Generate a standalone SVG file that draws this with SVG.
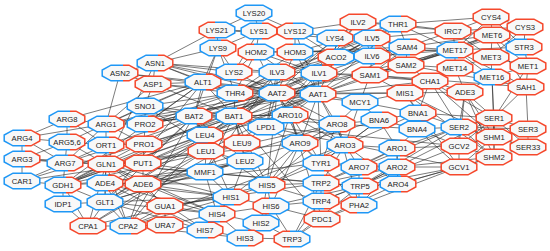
<svg xmlns="http://www.w3.org/2000/svg" xmlns:xlink="http://www.w3.org/1999/xlink" width="550" height="251" viewBox="0 0 550 251">
<defs>
<style>
.e{fill:none;stroke:#2a2a2a;stroke-width:0.62}
.n use{fill:#f8f8f8;stroke-width:1.5;stroke-linejoin:miter}
.br{stroke:url(#gbr)}
.rb{stroke:url(#grb)}
.b{stroke:#1f97f5}
.r{stroke:#f5482c}
.n text{font-family:"Liberation Sans",Arial,sans-serif;font-size:7.7px;fill:#222;text-anchor:middle}
</style>
<linearGradient id="gbr" x1="0" y1="0" x2="1" y2="0"><stop offset="0" stop-color="#1f97f5"/><stop offset="0.58" stop-color="#1f97f5"/><stop offset="0.58" stop-color="#f5482c"/><stop offset="1" stop-color="#f5482c"/></linearGradient>
<linearGradient id="grb" x1="0" y1="0" x2="1" y2="0"><stop offset="0" stop-color="#f5482c"/><stop offset="0.45" stop-color="#f5482c"/><stop offset="0.45" stop-color="#1f97f5"/><stop offset="1" stop-color="#1f97f5"/></linearGradient>
<polygon id="o" points="-9,-7.8 9,-7.8 17.8,-3 17.8,3 9,7.8 -9,7.8 -17.8,3 -17.8,-3"/>
</defs>
<rect width="550" height="251" fill="#fff"/>
<g id="connectors" class="e">
<path d="M254 13L217 30M254 13L259 31M254 13L295 31M217 30L259 31M259 31L295 31M217 30L218 48M259 31L218 48M218 48L234 72M259 31L234 72M295 31L335 38M295 31L336 57M335 38L336 57M217 30L335 38M295 31L358 22M335 38L358 22M234 72L277 93M234 72L203 82M218 48L203 82M218 48L194 116M218 48L235 93M295 31L295 52M259 31L256 52M336 57L319 73M336 57L277 72M336 57L318 94M336 57L372 38M335 38L372 38M335 38L372 56M234 72L277 72M295 31L318 94M335 38L277 93M336 57L235 93"/>
<path d="M256 52L295 52M256 52L235 93M295 52L235 93M256 52L277 93M295 52L277 93M295 52L318 94M256 52L318 94M295 52L398 24M256 52L455 50M295 52L455 50M295 52L407 47M256 52L319 73M295 52L319 73M398 24L319 73M398 24L235 93M398 24L372 38M398 24L407 47M398 24L318 94M398 24L453 31M398 24L455 50M235 93L319 73M235 93L277 93M235 93L277 72M235 93L234 116M235 93L203 82M235 93L318 94M256 52L234 72"/>
<path d="M319 73L358 22M319 73L277 72M358 22L372 38M358 22L372 56M372 38L372 56M277 72L372 38M277 72L372 56M277 72L234 116M277 72L194 116M372 38L234 116M372 56L194 116M358 22L234 116M372 38L205 135M372 56L205 135M358 22L266 127M277 72L266 127M319 73L266 127M372 56L406 65M372 38L407 47M319 73L430 81M319 73L370 75M358 22L398 24M372 56L455 50M372 38L453 31M372 56L370 75"/>
<path d="M277 93L318 94M277 93L203 82M277 93L153 84M277 93L155 63M318 94L155 63M318 94L120 73M277 93L120 73M277 93L337 124M318 94L337 124M277 93L300 143M318 94L300 143M277 93L234 116M318 94L194 116M277 93L63 185M318 94L63 185M277 93L105 202M318 94L105 202M277 93L106 164M318 94L106 124M277 93L145 124M318 94L144 144M277 93L455 50M318 94L455 50M318 94L370 75M277 93L406 65M318 94L360 102M277 93L266 127M277 93L290 115M318 94L290 115M318 94L321 163M277 93L321 163M318 94L405 93M277 93L405 93M318 94L319 73M277 93L277 72M318 94L277 72M277 93L319 73M318 94L430 81M277 93L345 145M318 94L345 145M318 94L407 47"/>
<path d="M203 82L234 116M203 82L194 116M203 82L155 63M203 82L153 84M203 82L63 185M203 82L105 202M203 82L145 106M203 82L145 124M203 82L106 124M155 63L120 73M155 63L153 84M120 73L153 84M120 73L106 124M153 84L106 124M153 84L145 106M155 63L234 72M155 63L235 93M155 63L277 72M153 84L235 93M153 84L234 116M155 63L106 164M155 63L218 48M155 63L217 30"/>
<path d="M234 116L194 116M234 116L205 135M194 116L205 135M234 116L242 143M194 116L206 151M234 116L245 161M194 116L245 161M205 135L242 143M205 135L206 151M206 151L245 161M242 143L245 161M242 143L206 151M234 116L290 115M194 116L290 115M234 116L322 219M194 116L63 185M234 116L63 185M194 116L105 202M194 116L143 163M234 116L337 124M234 116L300 143M205 135L290 115M206 151L205 172M245 161L205 172M205 172L234 116M205 172L277 72M266 127L234 116M266 127L459 167M266 127L459 146M266 127L290 115M266 127L242 143M194 116L145 106M194 116L145 124"/>
<path d="M337 124L300 143M337 124L290 115M300 143L290 115M337 124L321 163M300 143L321 163M337 124L359 205M300 143L359 205M290 115L322 219M337 124L345 145M345 145L398 184M345 145L397 148M398 184L397 148M397 148L397 167M397 167L359 167M359 167L321 163M359 167L359 205M359 167L345 145M397 167L321 183M397 148L321 183M345 145L321 183M321 183L292 239M321 183L321 201M321 201L292 239M360 186L292 239M360 186L321 183M360 186L321 201M321 201L359 205M360 186L397 167M360 186L398 184M398 184L397 167M345 145L321 163M337 124L267 185M300 143L267 185M300 143L231 197M321 163L267 185M321 183L267 185M321 201L271 206M322 219L292 239M322 219L359 205M322 219L271 206M290 115L267 185M337 124L417 129M300 143L379 120M337 124L379 120M360 102L337 124M360 102L379 120M360 186L494 118M360 186L459 127M321 183L459 127M398 184L459 167M397 167L459 167M397 148L459 146M397 148L459 127M397 167L494 157M398 184L494 157M359 167L397 148M321 163L397 167M359 205L397 167M359 205L459 167M321 201L459 146M360 186L459 167M322 219L398 184M271 206L360 186M267 185L321 201M290 115L345 145"/>
<path d="M231 197L217 214M231 197L271 206M231 197L267 185M267 185L271 206M217 214L271 206M217 214L261 223M261 223L271 206M261 223L245 238M205 230L245 238M205 230L217 214M245 238L292 239M261 223L292 239M271 206L292 239M267 185L261 223M231 197L205 230M217 214L245 238M231 197L105 183M217 214L143 184M205 230L106 164M231 197L245 161M267 185L245 161M267 185L234 116M231 197L194 116M217 214L105 202M205 230L105 202M245 238L128 226M267 185L277 93M217 214L205 172M231 197L205 172M271 206L300 143M267 185L345 145"/>
<path d="M455 50L492 35M455 50L491 57M455 50L455 68M455 50L524 47M455 50L491 17M455 50L525 27M455 50L453 31M455 50L407 47M455 50L406 65M455 50L370 75M455 50L526 87M455 50L492 77M492 35L491 17M492 35L453 31M492 35L524 47M492 35L491 57M492 35L406 65M492 35L370 75M492 35L526 87M492 35L528 66M491 17L525 27M491 17L453 31M491 17L524 47M491 17L398 24M525 27L524 47M525 27L453 31M525 27L491 57M524 47L491 57M524 47L528 66M491 57L455 68M491 57L492 77M491 57L528 66M455 68L492 77M492 77L528 66M492 77L526 87M528 66L526 87M455 68L406 65M455 68L465 92M492 77L494 118M526 87L494 118M526 87L370 75M526 87L406 65M370 75L406 65M406 65L407 47M407 47L370 75M407 47L453 31M407 47L492 35M370 75L405 93M370 75L430 81M406 65L430 81M453 31L491 57M358 22L453 31M372 38L406 65M430 81L455 68M430 81L405 93M430 81L465 92M430 81L494 118M430 81L459 127M430 81L494 137M430 81L418 113M405 93L465 92M405 93L494 137M405 93L494 157M405 93L459 167M405 93L418 113M405 93L455 68M465 92L494 137M465 92L494 157M465 92L459 127M465 92L459 146M465 92L494 118M465 92L492 77M492 77L494 137M528 66L494 118M526 87L528 129"/>
<path d="M494 118L459 127M494 118L528 129M494 118L528 147M528 129L528 147M494 118L494 137M494 118L494 157M459 127L494 137M459 127L494 157M459 127L528 129M459 127L528 147M494 137L494 157M494 137L459 167M494 137L459 146M494 157L459 167M494 157L459 146M459 167L459 146M528 129L494 137M528 147L494 157M459 127L459 146M494 118L459 146M528 147L494 137"/>
<path d="M418 113L417 129M418 113L379 120M417 129L379 120M417 129L459 127M418 113L459 127M417 129L397 148M379 120L397 148M417 129L459 146M418 113L345 145M379 120L321 163M379 120L345 145M418 113L360 102M360 102L370 75M360 102L405 93M360 102L345 145M360 102L277 93M418 113L494 118M417 129L459 167"/>
<path d="M67 119L106 124M67 119L67 142M67 119L22 138M67 119L106 145M22 138L67 142M22 138L22 159M22 138L106 124M22 138L65 163M22 159L67 142M22 159L22 181M22 159L65 163M22 159L106 164M22 159L143 163M67 142L65 163M67 142L106 145M67 142L106 124M67 142L106 164M65 163L106 145M65 163L106 124M65 163L63 185M65 163L106 164M106 145L106 124M106 145L144 144M106 145L106 164M106 124L145 124M106 124L144 144M106 124L145 106M145 124L144 144M145 124L145 106M144 144L143 163M143 163L106 164M143 163L22 181M143 163L143 184M106 164L63 185M106 164L105 202M106 164L105 183M106 164L143 184M106 164L128 226M106 164L88 226M63 185L105 202M63 185L105 183M63 185L63 204M63 185L88 226M105 202L105 183M105 202L88 226M105 202L128 226M105 202L63 204M105 183L143 184M105 183L128 226M143 184L128 226M88 226L128 226M88 226L63 204M128 226L165 225M128 226L165 206M165 225L165 206M165 206L143 184M22 181L65 163M22 181L144 144M63 185L22 181"/>
<path d="M106 124L234 116M106 124L277 93M106 124L235 93M65 163L277 93M67 119L203 82M106 145L194 116M144 144L234 116M145 124L194 116M145 124L235 93M145 124L277 93M145 106L235 93M145 106L234 116M145 106L267 185M143 163L205 135M143 163L318 94M143 163L206 151M143 163L205 172M106 164L217 214M106 164L231 197M106 164L300 143M106 164L321 183M106 164L360 186M105 183L267 185M105 183L245 161M105 183L205 230M143 184L231 197M143 184L245 161M143 184L205 172M143 184L337 124M143 184L321 163M63 185L205 135M63 185L205 172M105 202L231 197M105 202L245 161M105 202L300 143M128 226L231 197M128 226L345 145M88 226L267 185M88 226L318 94M165 225L217 214M165 206L231 197M165 225L205 230M63 185L337 124M105 183L318 94M106 164L206 151M128 226L205 135M128 226L194 116M88 226L206 151M105 202L234 116M105 183L217 214M165 206L217 214M165 206L321 183"/>
</g>
<g id="nodes">
<g id="n-ASN1" class="n" transform="translate(155,63)"><use href="#o" class="br"/><text y="2.7">ASN1</text></g>
<g id="n-ASN2" class="n" transform="translate(120,73)"><use href="#o" class="br"/><text y="2.7">ASN2</text></g>
<g id="n-ASP1" class="n" transform="translate(153,84)"><use href="#o" class="r"/><text y="2.7">ASP1</text></g>
<g id="n-SNO1" class="n" transform="translate(145,106)"><use href="#o" class="b"/><text y="2.7">SNO1</text></g>
<g id="n-ARG8" class="n" transform="translate(67,119)"><use href="#o" class="br"/><text y="2.7">ARG8</text></g>
<g id="n-ARG1" class="n" transform="translate(106,124)"><use href="#o" class="br"/><text y="2.7">ARG1</text></g>
<g id="n-PRO2" class="n" transform="translate(145,124)"><use href="#o" class="br"/><text y="2.7">PRO2</text></g>
<g id="n-LYS20" class="n" transform="translate(254,13)"><use href="#o" class="b"/><text y="2.7">LYS20</text></g>
<g id="n-LYS21" class="n" transform="translate(217,30)"><use href="#o" class="rb"/><text y="2.7">LYS21</text></g>
<g id="n-LYS1" class="n" transform="translate(259,31)"><use href="#o" class="br"/><text y="2.7">LYS1</text></g>
<g id="n-LYS12" class="n" transform="translate(295,31)"><use href="#o" class="rb"/><text y="2.7">LYS12</text></g>
<g id="n-ILV2" class="n" transform="translate(358,22)"><use href="#o" class="r"/><text y="2.7">ILV2</text></g>
<g id="n-LYS9" class="n" transform="translate(218,48)"><use href="#o" class="br"/><text y="2.7">LYS9</text></g>
<g id="n-HOM2" class="n" transform="translate(256,52)"><use href="#o" class="rb"/><text y="2.7">HOM2</text></g>
<g id="n-HOM3" class="n" transform="translate(295,52)"><use href="#o" class="rb"/><text y="2.7">HOM3</text></g>
<g id="n-LYS4" class="n" transform="translate(335,38)"><use href="#o" class="br"/><text y="2.7">LYS4</text></g>
<g id="n-ACO2" class="n" transform="translate(336,57)"><use href="#o" class="rb"/><text y="2.7">ACO2</text></g>
<g id="n-LYS2" class="n" transform="translate(234,72)"><use href="#o" class="br"/><text y="2.7">LYS2</text></g>
<g id="n-ILV3" class="n" transform="translate(277,72)"><use href="#o" class="br"/><text y="2.7">ILV3</text></g>
<g id="n-ILV1" class="n" transform="translate(319,73)"><use href="#o" class="br"/><text y="2.7">ILV1</text></g>
<g id="n-ALT1" class="n" transform="translate(203,82)"><use href="#o" class="br"/><text y="2.7">ALT1</text></g>
<g id="n-THR4" class="n" transform="translate(235,93)"><use href="#o" class="br"/><text y="2.7">THR4</text></g>
<g id="n-AAT2" class="n" transform="translate(277,93)"><use href="#o" class="br"/><text y="2.7">AAT2</text></g>
<g id="n-AAT1" class="n" transform="translate(318,94)"><use href="#o" class="br"/><text y="2.7">AAT1</text></g>
<g id="n-MCY1" class="n" transform="translate(360,102)"><use href="#o" class="b"/><text y="2.7">MCY1</text></g>
<g id="n-BAT2" class="n" transform="translate(194,116)"><use href="#o" class="br"/><text y="2.7">BAT2</text></g>
<g id="n-BAT1" class="n" transform="translate(234,116)"><use href="#o" class="br"/><text y="2.7">BAT1</text></g>
<g id="n-ARO10" class="n" transform="translate(290,115)"><use href="#o" class="br"/><text y="2.7">ARO10</text></g>
<g id="n-LPD1" class="n" transform="translate(266,127)"><use href="#o" class="b"/><text y="2.7">LPD1</text></g>
<g id="n-ARO8" class="n" transform="translate(337,124)"><use href="#o" class="br"/><text y="2.7">ARO8</text></g>
<g id="n-CYS4" class="n" transform="translate(491,17)"><use href="#o" class="r"/><text y="2.7">CYS4</text></g>
<g id="n-THR1" class="n" transform="translate(398,24)"><use href="#o" class="br"/><text y="2.7">THR1</text></g>
<g id="n-IRC7" class="n" transform="translate(453,31)"><use href="#o" class="r"/><text y="2.7">IRC7</text></g>
<g id="n-CYS3" class="n" transform="translate(525,27)"><use href="#o" class="r"/><text y="2.7">CYS3</text></g>
<g id="n-ILV5" class="n" transform="translate(372,38)"><use href="#o" class="br"/><text y="2.7">ILV5</text></g>
<g id="n-MET6" class="n" transform="translate(492,35)"><use href="#o" class="r"/><text y="2.7">MET6</text></g>
<g id="n-SAM4" class="n" transform="translate(407,47)"><use href="#o" class="br"/><text y="2.7">SAM4</text></g>
<g id="n-MET17" class="n" transform="translate(455,50)"><use href="#o" class="br"/><text y="2.7">MET17</text></g>
<g id="n-STR3" class="n" transform="translate(524,47)"><use href="#o" class="br"/><text y="2.7">STR3</text></g>
<g id="n-ILV6" class="n" transform="translate(372,56)"><use href="#o" class="br"/><text y="2.7">ILV6</text></g>
<g id="n-MET3" class="n" transform="translate(491,57)"><use href="#o" class="r"/><text y="2.7">MET3</text></g>
<g id="n-SAM2" class="n" transform="translate(406,65)"><use href="#o" class="r"/><text y="2.7">SAM2</text></g>
<g id="n-MET14" class="n" transform="translate(455,68)"><use href="#o" class="r"/><text y="2.7">MET14</text></g>
<g id="n-MET1" class="n" transform="translate(528,66)"><use href="#o" class="r"/><text y="2.7">MET1</text></g>
<g id="n-SAM1" class="n" transform="translate(370,75)"><use href="#o" class="r"/><text y="2.7">SAM1</text></g>
<g id="n-MET16" class="n" transform="translate(492,77)"><use href="#o" class="br"/><text y="2.7">MET16</text></g>
<g id="n-SAH1" class="n" transform="translate(526,87)"><use href="#o" class="r"/><text y="2.7">SAH1</text></g>
<g id="n-CHA1" class="n" transform="translate(430,81)"><use href="#o" class="r"/><text y="2.7">CHA1</text></g>
<g id="n-MIS1" class="n" transform="translate(405,93)"><use href="#o" class="r"/><text y="2.7">MIS1</text></g>
<g id="n-ADE3" class="n" transform="translate(465,92)"><use href="#o" class="r"/><text y="2.7">ADE3</text></g>
<g id="n-BNA1" class="n" transform="translate(418,113)"><use href="#o" class="br"/><text y="2.7">BNA1</text></g>
<g id="n-BNA6" class="n" transform="translate(379,120)"><use href="#o" class="br"/><text y="2.7">BNA6</text></g>
<g id="n-SER1" class="n" transform="translate(494,118)"><use href="#o" class="r"/><text y="2.7">SER1</text></g>
<g id="n-SER2" class="n" transform="translate(459,127)"><use href="#o" class="br"/><text y="2.7">SER2</text></g>
<g id="n-BNA4" class="n" transform="translate(417,129)"><use href="#o" class="b"/><text y="2.7">BNA4</text></g>
<g id="n-SER3" class="n" transform="translate(528,129)"><use href="#o" class="r"/><text y="2.7">SER3</text></g>
<g id="n-SHM1" class="n" transform="translate(494,137)"><use href="#o" class="r"/><text y="2.7">SHM1</text></g>
<g id="n-SER33" class="n" transform="translate(528,147)"><use href="#o" class="r"/><text y="2.7">SER33</text></g>
<g id="n-ARO1" class="n" transform="translate(397,148)"><use href="#o" class="br"/><text y="2.7">ARO1</text></g>
<g id="n-GCV2" class="n" transform="translate(459,146)"><use href="#o" class="r"/><text y="2.7">GCV2</text></g>
<g id="n-SHM2" class="n" transform="translate(494,157)"><use href="#o" class="r"/><text y="2.7">SHM2</text></g>
<g id="n-ARO2" class="n" transform="translate(397,167)"><use href="#o" class="br"/><text y="2.7">ARO2</text></g>
<g id="n-GCV1" class="n" transform="translate(459,167)"><use href="#o" class="r"/><text y="2.7">GCV1</text></g>
<g id="n-ARO7" class="n" transform="translate(359,167)"><use href="#o" class="br"/><text y="2.7">ARO7</text></g>
<g id="n-TRP5" class="n" transform="translate(360,186)"><use href="#o" class="br"/><text y="2.7">TRP5</text></g>
<g id="n-ARO4" class="n" transform="translate(398,184)"><use href="#o" class="br"/><text y="2.7">ARO4</text></g>
<g id="n-PHA2" class="n" transform="translate(359,205)"><use href="#o" class="rb"/><text y="2.7">PHA2</text></g>
<g id="n-ARO9" class="n" transform="translate(300,143)"><use href="#o" class="br"/><text y="2.7">ARO9</text></g>
<g id="n-ARO3" class="n" transform="translate(345,145)"><use href="#o" class="br"/><text y="2.7">ARO3</text></g>
<g id="n-TYR1" class="n" transform="translate(321,163)"><use href="#o" class="br"/><text y="2.7">TYR1</text></g>
<g id="n-TRP2" class="n" transform="translate(321,183)"><use href="#o" class="br"/><text y="2.7">TRP2</text></g>
<g id="n-TRP4" class="n" transform="translate(321,201)"><use href="#o" class="br"/><text y="2.7">TRP4</text></g>
<g id="n-PDC1" class="n" transform="translate(322,219)"><use href="#o" class="r"/><text y="2.7">PDC1</text></g>
<g id="n-LEU4" class="n" transform="translate(205,135)"><use href="#o" class="br"/><text y="2.7">LEU4</text></g>
<g id="n-LEU9" class="n" transform="translate(242,143)"><use href="#o" class="r"/><text y="2.7">LEU9</text></g>
<g id="n-LEU1" class="n" transform="translate(206,151)"><use href="#o" class="r"/><text y="2.7">LEU1</text></g>
<g id="n-LEU2" class="n" transform="translate(245,161)"><use href="#o" class="b"/><text y="2.7">LEU2</text></g>
<g id="n-MMF1" class="n" transform="translate(205,172)"><use href="#o" class="b"/><text y="2.7">MMF1</text></g>
<g id="n-HIS5" class="n" transform="translate(267,185)"><use href="#o" class="br"/><text y="2.7">HIS5</text></g>
<g id="n-HIS1" class="n" transform="translate(231,197)"><use href="#o" class="br"/><text y="2.7">HIS1</text></g>
<g id="n-HIS6" class="n" transform="translate(271,206)"><use href="#o" class="rb"/><text y="2.7">HIS6</text></g>
<g id="n-HIS4" class="n" transform="translate(217,214)"><use href="#o" class="br"/><text y="2.7">HIS4</text></g>
<g id="n-HIS2" class="n" transform="translate(261,223)"><use href="#o" class="b"/><text y="2.7">HIS2</text></g>
<g id="n-HIS7" class="n" transform="translate(205,230)"><use href="#o" class="br"/><text y="2.7">HIS7</text></g>
<g id="n-HIS3" class="n" transform="translate(245,238)"><use href="#o" class="br"/><text y="2.7">HIS3</text></g>
<g id="n-TRP3" class="n" transform="translate(292,239)"><use href="#o" class="rb"/><text y="2.7">TRP3</text></g>
<g id="n-ARG4" class="n" transform="translate(22,138)"><use href="#o" class="br"/><text y="2.7">ARG4</text></g>
<g id="n-ARG5_6" class="n" transform="translate(67,142)"><use href="#o" class="br"/><text y="2.7">ARG5,6</text></g>
<g id="n-ORT1" class="n" transform="translate(106,145)"><use href="#o" class="br"/><text y="2.7">ORT1</text></g>
<g id="n-PRO1" class="n" transform="translate(144,144)"><use href="#o" class="r"/><text y="2.7">PRO1</text></g>
<g id="n-ARG3" class="n" transform="translate(22,159)"><use href="#o" class="br"/><text y="2.7">ARG3</text></g>
<g id="n-ARG7" class="n" transform="translate(65,163)"><use href="#o" class="br"/><text y="2.7">ARG7</text></g>
<g id="n-GLN1" class="n" transform="translate(106,164)"><use href="#o" class="r"/><text y="2.7">GLN1</text></g>
<g id="n-PUT1" class="n" transform="translate(143,163)"><use href="#o" class="r"/><text y="2.7">PUT1</text></g>
<g id="n-CAR1" class="n" transform="translate(22,181)"><use href="#o" class="b"/><text y="2.7">CAR1</text></g>
<g id="n-GDH1" class="n" transform="translate(63,185)"><use href="#o" class="br"/><text y="2.7">GDH1</text></g>
<g id="n-ADE4" class="n" transform="translate(105,183)"><use href="#o" class="br"/><text y="2.7">ADE4</text></g>
<g id="n-ADE6" class="n" transform="translate(143,184)"><use href="#o" class="r"/><text y="2.7">ADE6</text></g>
<g id="n-IDP1" class="n" transform="translate(63,204)"><use href="#o" class="b"/><text y="2.7">IDP1</text></g>
<g id="n-GLT1" class="n" transform="translate(105,202)"><use href="#o" class="b"/><text y="2.7">GLT1</text></g>
<g id="n-GUA1" class="n" transform="translate(165,206)"><use href="#o" class="r"/><text y="2.7">GUA1</text></g>
<g id="n-CPA1" class="n" transform="translate(88,226)"><use href="#o" class="r"/><text y="2.7">CPA1</text></g>
<g id="n-CPA2" class="n" transform="translate(128,226)"><use href="#o" class="br"/><text y="2.7">CPA2</text></g>
<g id="n-URA7" class="n" transform="translate(165,225)"><use href="#o" class="r"/><text y="2.7">URA7</text></g>
</g>
</svg>
